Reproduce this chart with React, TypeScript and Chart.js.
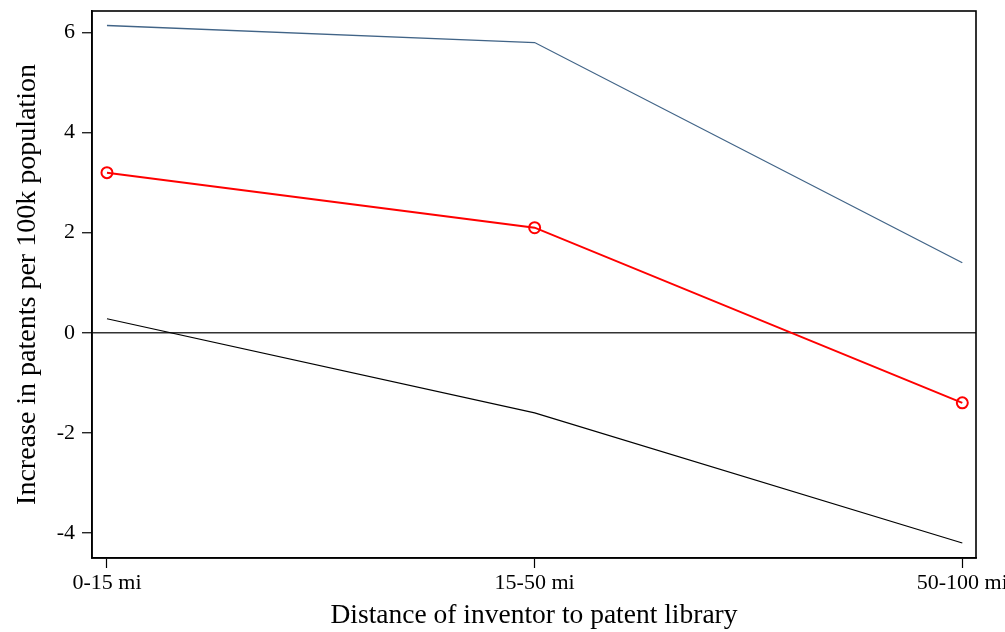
import React, { useEffect, useRef } from "react";
import { Chart, registerables } from "chart.js";

Chart.register(...registerables);

const categories = ["0-15 mi", "15-50 mi", "50-100 mi"];
const upperCI = [6.14, 5.8, 1.4];
const estimate = [3.2, 2.1, -1.4];
const lowerCI = [0.28, -1.6, -4.2];
const yTicks = [-4, -2, 0, 2, 4, 6];

const FONT = "'Liberation Serif', serif";

const boxPlugin = {
  id: "boxPlugin",
  afterDraw(chart: any) {
    const { ctx, chartArea } = chart;
    ctx.save();
    ctx.strokeStyle = "#000";
    ctx.lineWidth = 1.6;
    ctx.strokeRect(chartArea.left, chartArea.top, chartArea.right - chartArea.left, chartArea.bottom - chartArea.top);
    ctx.restore();
  },
};

export default function App() {
  const ref = useRef<HTMLCanvasElement | null>(null);
  useEffect(() => {
    document.body.style.margin = "0";
    const toPts = (arr: number[]) => arr.map((v, i) => ({ x: i, y: v }));
    const chart = new Chart(ref.current!, {
      type: "line",
      data: {
        datasets: [
          {
            data: toPts(upperCI),
            borderColor: "#416487",
            borderWidth: 1.3,
            pointRadius: 0,
            tension: 0,
          },
          {
            data: toPts(estimate),
            borderColor: "#ff0000",
            borderWidth: 2,
            pointRadius: 5.5,
            pointBorderWidth: 2,
            pointBackgroundColor: "rgba(0,0,0,0)",
            pointBorderColor: "#ff0000",
            tension: 0,
          },
          {
            data: toPts(lowerCI),
            borderColor: "#000000",
            borderWidth: 1.2,
            pointRadius: 0,
            tension: 0,
          },
        ],
      },
      options: {
        animation: false,
        responsive: false,
        maintainAspectRatio: false,
        layout: { padding: { top: 11, right: 29, left: 0, bottom: 0 } },
        plugins: { legend: { display: false }, tooltip: { enabled: false } },
        scales: {
          x: {
            type: "linear",
            min: -0.035,
            max: 2.032,
            afterBuildTicks: (s: any) => {
              s.ticks = categories.map((_, i) => ({ value: i }));
            },
            afterFit: (s: any) => {
              s.height = 74;
              s.paddingLeft = 0;
              s.paddingRight = 0;
            },
            ticks: {
              callback: (v: any) => categories[v as number] ?? "",
              font: { family: FONT, size: 22 },
              color: "#000",
              padding: 2,
              maxRotation: 0,
              autoSkip: false,
            },
            grid: { drawOnChartArea: false, drawTicks: true, tickLength: 10, tickColor: "#000", tickWidth: 1.2 },
            border: { display: true, color: "#000", width: 1.6 },
            title: {
              display: true,
              text: "Distance of inventor to patent library",
              font: { family: FONT, size: 27.5 },
              color: "#000",
              padding: { top: 0, bottom: 0 },
            },
          },
          y: {
            type: "linear",
            min: -4.5,
            max: 6.43,
            afterBuildTicks: (s: any) => {
              s.ticks = yTicks.map((v) => ({ value: v }));
            },
            afterFit: (s: any) => {
              s.width = 92;
              s.paddingTop = 0;
              s.paddingBottom = 0;
            },
            ticks: {
              font: { family: FONT, size: 22 },
              color: "#000",
              padding: 7,
            },
            grid: {
              drawOnChartArea: true,
              drawTicks: true,
              tickLength: 10,
              tickColor: "#000",
              tickWidth: 1.2,
              lineWidth: 1.5,
              color: (c: any) => (c.tick && c.tick.value === 0 ? "#333333" : "rgba(0,0,0,0)"),
            },
            border: { display: true, color: "#000", width: 1.6 },
            title: {
              display: true,
              text: "Increase in patents per 100k population",
              font: { family: FONT, size: 28 },
              color: "#000",
              padding: { top: 11, bottom: 0 },
            },
          },
        },
      },
      plugins: [boxPlugin],
    });
    return () => chart.destroy();
  }, []);
  return (
    <div style={{ position: "fixed", left: 0, top: 0, width: 1005, height: 632, overflow: "hidden", background: "#fff" }}>
      <canvas ref={ref} width={1005} height={632} style={{ width: 1005, height: 632 }} />
    </div>
  );
}
